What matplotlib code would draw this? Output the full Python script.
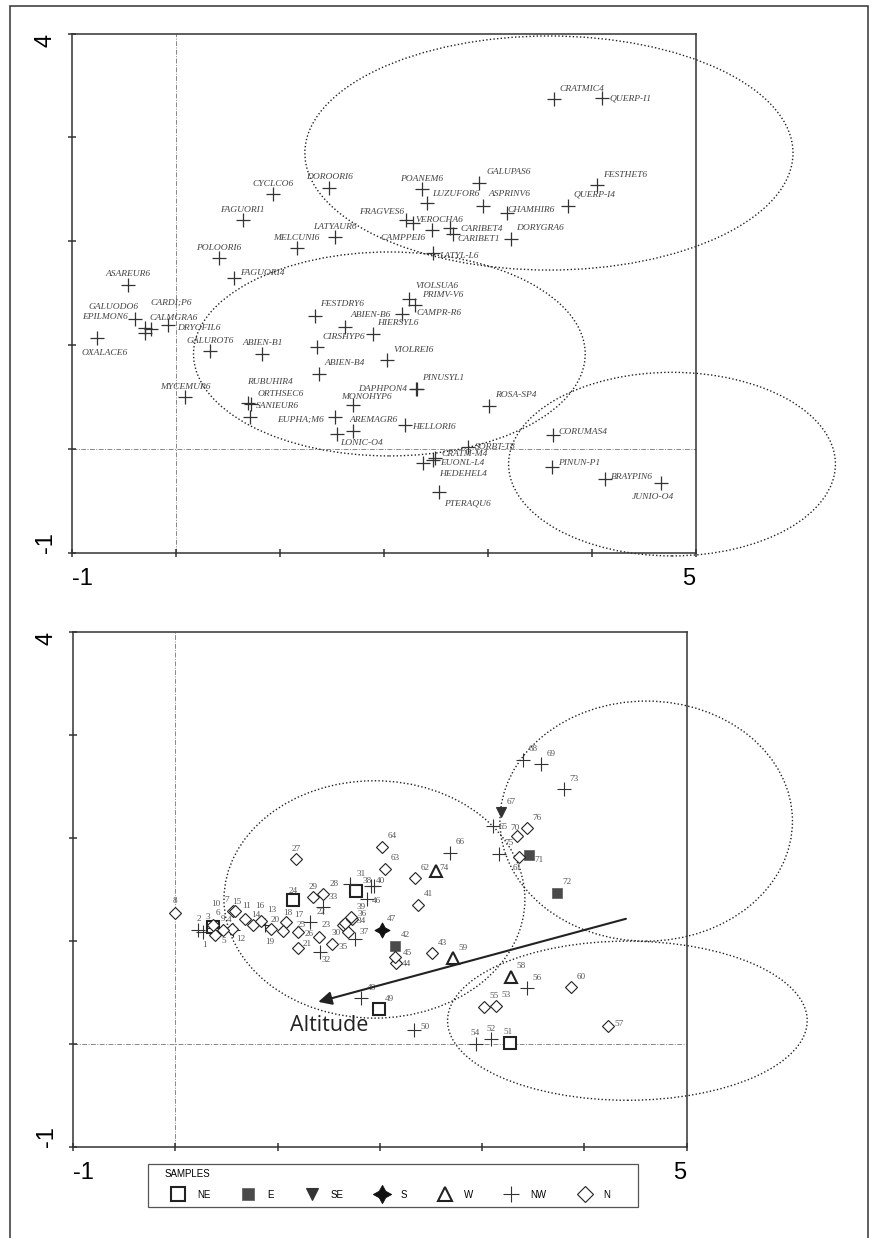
import matplotlib
matplotlib.use("Agg")
import matplotlib.pyplot as plt
from matplotlib.patches import Ellipse, Rectangle
from matplotlib.lines import Line2D

# ---- species scores (upper plot) ----
species = ['CRATMIC4', 'QUERP-I1', 'FESTHET6', 'QUERP-I4', 'GALUPAS6', 'ASPRINV6',
           'CHAMHIR6', 'DORYGRA6', 'POANEM6', 'LUZUFOR6', 'FRAGVES6', 'VEROCHA6',
           'CAMPPEI6', 'CARIBET4', 'CARIBET1', 'LATYL-L6', 'DOROORI6', 'CYCLCO6',
           'FAGUORI1', 'LATYAUR6', 'MELCUNI6', 'POLOORI6', 'FAGUORI4', 'ASAREUR6',
           'EPILMON6', 'OXALACE6', 'GALUODO6', 'CALMGRA6', 'DRYOFIL6', 'CARDI;P6',
           'GALUROT6', 'ABIEN-B1', 'MYCEMUR6', 'RUBUHIR4', 'ORTHSEC6', 'SANIEUR6',
           'FESTDRY6', 'ABIEN-B6', 'HIERSYL6', 'CIRSHYP6', 'CAMPR-R6', 'VIOLSUA6',
           'PRIMV-V6', 'VIOLREI6', 'ABIEN-B4', 'PINUSYL1', 'DAPHPON4', 'MONOHYP6',
           'EUPHA;M6', 'AREMAGR6', 'LONIC-O4', 'HELLORI6', 'ROSA-SP4', 'CORUMAS4',
           'SORBT-T8', 'CRATM-M4', 'EUONL-L4', 'HEDEHEL4', 'PTERAQU6', 'PINUN-P1',
           'BRAYPIN6', 'JUNIO-O4']
species_x = [3.637, 4.099, 4.053, 3.774, 2.915, 2.957, 3.182, 3.220, 2.364, 2.412,
             2.213, 2.278, 2.460, 2.636, 2.662, 2.470, 1.472, 0.937, 0.642, 1.533,
             1.162, 0.414, 0.558, -0.458, -0.397, -0.762, -0.298, -0.243, -0.298, -0.074,
             0.330, 0.831, 0.087, 0.696, 0.719, 0.712, 1.338, 1.626, 1.893, 1.354,
             2.178, 2.245, 2.300, 2.033, 1.379, 2.316, 2.310, 1.706, 1.530, 1.700,
             1.552, 2.203, 3.012, 3.624, 2.812, 2.492, 2.476, 2.380, 2.528, 3.615,
             4.128, 4.663]
species_y = [3.366, 3.382, 2.541, 2.339, 2.558, 2.342, 2.269, 2.018, 2.500, 2.365,
             2.204, 2.178, 2.108, 2.124, 2.069, 1.889, 2.509, 2.455, 2.201, 2.038,
             1.932, 1.835, 1.643, 1.578, 1.251, 1.071, 1.161, 1.152, 1.113, 1.193,
             0.943, 0.914, 0.497, 0.439, 0.432, 0.310, 1.280, 1.177, 1.104, 0.984,
             1.296, 1.440, 1.386, 0.856, 0.721, 0.580, 0.576, 0.423, 0.310, 0.175,
             0.143, 0.230, 0.413, 0.134, 0.021, -0.090, -0.107, -0.133, -0.418, -0.171,
             -0.293, -0.326]

# ---- sample scores (lower plot) ----
samples = list(range(1, 77))
aspect = ['NW', 'NW', 'NE', 'N', 'N', 'NW', 'N', 'N', 'N', 'N',
          'N', 'NW', 'NW', 'N', 'N', 'N', 'NW', 'N', 'N', 'N',
          'N', 'NW', 'N', 'NE', 'N', 'N', 'N', 'NW', 'N', 'N',
          'NE', 'NW', 'N', 'N', 'N', 'N', 'NW', 'NW', 'N', 'NW',
          'N', 'E', 'N', 'N', 'N', 'NW', 'S', 'NW', 'NE', 'NW',
          'NE', 'NW', 'N', 'NW', 'N', 'NW', 'N', 'W', 'W', 'N',
          'N', 'N', 'N', 'N', 'NW', 'NW', 'SE', 'NW', 'NW', 'N',
          'E', 'E', 'NW', 'W', 'NW', 'N']
sample_x = [0.274, 0.225, 0.372, 0.557, 0.388, 0.379, 0.567, -0.003, 0.470, 0.372,
            0.682, 0.567, 0.877, 0.757, 0.584, 0.838, 1.317, 1.083, 0.933, 1.050,
            1.197, 1.447, 1.640, 1.148, 1.197, 1.405, 1.177, 1.708, 1.344, 1.686,
            1.767, 1.415, 1.447, 1.659, 1.535, 1.728, 1.757, 1.914, 1.715, 1.943,
            2.376, 2.148, 2.513, 2.158, 2.148, 1.872, 2.018, 1.816, 1.995, 2.337,
            3.276, 3.084, 3.136, 2.940, 3.018, 3.436, 4.234, 3.282, 2.718, 3.866,
            3.361, 2.344, 2.050, 2.018, 3.109, 2.686, 3.182, 3.397, 3.573, 3.344,
            3.461, 3.735, 3.801, 2.549, 3.168, 3.436]
sample_y = [1.089, 1.105, 1.137, 1.112, 1.057, 1.125, 1.293, 1.273, 1.105, 1.154,
            1.212, 1.105, 1.154, 1.154, 1.285, 1.195, 1.180, 1.186, 1.115, 1.098,
            0.927, 1.329, 1.154, 1.397, 1.089, 1.040, 1.792, 1.549, 1.421, 1.083,
            1.487, 0.891, 1.453, 1.170, 0.969, 1.212, 1.015, 1.533, 1.234, 1.536,
            1.348, 0.950, 0.879, 0.782, 0.846, 1.403, 1.105, 0.442, 0.335, 0.134,
            0.010, 0.049, 0.370, -0.002, 0.360, 0.539, 0.173, 0.651, 0.830, 0.549,
            1.811, 1.607, 1.698, 1.914, 2.115, 1.856, 2.248, 2.757, 2.715, 2.018,
            1.834, 1.467, 2.472, 1.681, 1.843, 2.093]

aspect_order = ['NE', 'E', 'SE', 'S', 'W', 'NW', 'N']

# group ellipses (centre x, centre y, width, height)
top_ell_x = [3.588, 2.053, 4.772]
top_ell_y = [2.849, 0.914, -0.147]
top_ell_w = [4.696, 3.768, 3.144]
top_ell_h = [2.254, 1.964, 1.768]
bot_ell_x = [4.604, 1.947, 4.420]
bot_ell_y = [2.163, 1.402, 0.224]
bot_ell_w = [2.860, 2.942, 3.516]
bot_ell_h = [2.332, 2.306, 1.546]

# altitude gradient arrow
arrow_from = (4.406, 1.214)
arrow_to = (1.398, 0.407)

# label placement (pixels from point, label centre)
sp_off = {'CYCLCO6': (0, -10), 'DOROORI6': (1, -11.6), 'FAGUORI1': (0, -10.3),
          'LATYAUR6': (0, -10.6), 'MELCUNI6': (0, -10.6), 'POLOORI6': (0, -10.6),
          'FAGUORI4': (28.5, -5), 'ASAREUR6': (0, -11), 'POANEM6': (0, -10.3),
          'LUZUFOR6': (28.8, -9.3), 'GALUPAS6': (29.5, -11.6), 'ASPRINV6': (25.9, -11.4),
          'CHAMHIR6': (24.6, -3.3), 'DORYGRA6': (29.3, -11.3), 'QUERP-I4': (26.2, -11.7),
          'FESTHET6': (27.4, -10), 'CRATMIC4': (28, -10), 'QUERP-I1': (28.3, 1.3),
          'FRAGVES6': (-24, -8), 'VEROCHA6': (27, -2.7), 'CAMPPEI6': (-28.9, 7.7),
          'CARIBET4': (31.8, 0.4), 'CARIBET1': (25.6, 5.3), 'LATYL-L6': (26.1, 3),
          'EPILMON6': (-29.7, -1.7), 'GALUODO6': (-31.2, -21.6), 'OXALACE6': (8.3, 15),
          'CARDI;P6': (3.4, -22.3), 'DRYOFIL6': (54, -5.6), 'CALMGRA6': (23, -11.6),
          'GALUROT6': (0, -10.3), 'ABIEN-B1': (0, -11.3), 'MYCEMUR6': (0, -10.6),
          'RUBUHIR4': (21.2, -21.6), 'ORTHSEC6': (29.6, -10), 'SANIEUR6': (27.2, -11),
          'FESTDRY6': (27.3, -11.7), 'ABIEN-B6': (25.3, -11.7), 'HIERSYL6': (25.6, -11.6),
          'CIRSHYP6': (27.1, -10), 'VIOLSUA6': (27.9, -13.3), 'PRIMV-V6': (28, -10),
          'CAMPR-R6': (36.9, -1), 'VIOLREI6': (26, -10), 'ABIEN-B4': (25.7, -10.7),
          'PINUSYL1': (26.6, -11), 'DAPHPON4': (-33, 0), 'MONOHYP6': (12.9, -7.7),
          'EUPHA;M6': (-34.5, 3.3), 'AREMAGR6': (20.6, -10.7), 'LONIC-O4': (24.4, 8.7),
          'HELLORI6': (29.2, 2.3), 'ROSA-SP4': (26.5, -11), 'CORUMAS4': (29.8, -3),
          'SORBT-T8': (26.7, 0), 'CRATM-M4': (30, -4), 'EUONL-L4': (29, 3.3),
          'HEDEHEL4': (39.4, 11.3), 'PTERAQU6': (28.5, 11), 'PINUN-P1': (27, -4),
          'BRAYPIN6': (27.2, -2.6), 'JUNIO-O4': (-7.5, 14)}
smp_off_default = (10, -10.7)
smp_off = {1: (1.7, 13.3), 2: (0.7, -11), 3: (-5, -10), 4: (-3, -9.3), 5: (9, 6),
           6: (4.3, -14.7), 7: (-7, -10.5), 8: (0, -11.7), 9: (-0.6, -10.7),
           10: (2.7, -20.7), 11: (2, -12.5), 12: (7.4, 9.3), 13: (6.7, -15),
           14: (3, -10), 15: (1.5, -9), 16: (-1, -14.7), 17: (-11, -7.3),
           18: (1.3, -8.4), 19: (-1.4, 12.7), 20: (-7.4, -10.7), 21: (9.6, -4.3),
           22: (-2.6, 5.2), 23: (-16.5, 0.5), 24: (0, -9.3), 25: (3, -6.7),
           26: (-9.7, -3), 27: (0, -10.3), 28: (-16.3, -0.6), 29: (0, -10.8),
           30: (-11.5, 0.5), 31: (5, -16.7), 32: (6, 8), 33: (10, 3.1),
           34: (15.7, -2.3), 35: (10.4, 2.7), 36: (9.7, -5), 37: (9.3, -7.6),
           38: (-4.3, -5), 39: (10.3, -10), 40: (6, -4.7), 44: (10, 1),
           45: (12.3, -4), 46: (9.3, 1.4), 50: (10.7, -3.3), 51: (-2, -10.4),
           52: (0, -9.4), 54: (-1, -11.3), 57: (10.7, -2), 61: (-1.7, 11),
           65: (10, 1.3), 70: (-2.3, -7.7), 71: (10, 5), 74: (8.3, -3)}

styles = {
    'NE': dict(marker='s', ms=8, mfc='white', mec='#222', mew=1.5),
    'E': dict(marker='s', ms=7.5, mfc='#4a4a4a', mec='#666', mew=0.6),
    'SE': dict(marker='v', ms=7, mfc='#333', mec='#333', mew=0.8),
    'S': dict(marker=(4, 1, 0), ms=11, mfc='#111', mec='#111', mew=0.6),
    'W': dict(marker='^', ms=8, mfc='white', mec='#222', mew=1.5),
    'NW': dict(marker='+', ms=10, mfc='none', mec='#333', mew=0.8),
    'N': dict(marker='D', ms=6.5, mfc='white', mec='#222', mew=0.8),
}

sans = ['Liberation Sans', 'DejaVu Sans']
serif = ['Liberation Serif', 'DejaVu Serif']
frame_col = '#333333'
W, H = 875, 1238

fig = plt.figure(figsize=(W / 100, H / 100), dpi=100)
ax1 = fig.add_axes([0.0823, 0.55355, 0.7128, 0.41939])
ax2 = fig.add_axes([0.08343, 0.07375, 0.70137, 0.41575])


def setup(ax):
    ax.set_xlim(-1, 5)
    ax.set_ylim(-1, 4)
    ax.axhline(0, color='#888', lw=0.7, ls=(0, (5, 1.5, 1, 1.5)), zorder=1)
    ax.axvline(0, color='#888', lw=0.7, ls=(0, (5, 1.5, 1, 1.5)), zorder=1)
    for s in ax.spines.values():
        s.set_color(frame_col)
        s.set_linewidth(1.1)
    ax.set_xticks(range(-1, 6))
    ax.set_yticks(range(-1, 5))
    ax.set_xticklabels(['-1', '', '', '', '', '', '5'], fontsize=17, family=sans)
    ax.set_yticklabels(['-1', '', '', '', '', '4'], fontsize=17, family=sans, rotation=90)
    ax.tick_params(direction='inout', length=6, width=1.1, color=frame_col, pad=8)
    xl = ax.get_xticklabels()
    xl[0].set_ha('left')
    xl[-1].set_ha('right')
    yl = ax.get_yticklabels()
    yl[0].set_va('bottom')
    yl[-1].set_va('top')


setup(ax1)
setup(ax2)

# upper plot: species
for ex, ey, ew, eh in zip(top_ell_x, top_ell_y, top_ell_w, top_ell_h):
    ax1.add_patch(Ellipse((ex, ey), ew, eh, fill=False, ls=(0, (1, 1.6)), lw=1.0,
                          ec='#222', clip_on=False, zorder=2))
ax1.plot(species_x, species_y, ls='none', marker='+', ms=10, mew=0.9, color='#333', zorder=3)
for name, x, y in zip(species, species_x, species_y):
    dx, dy = sp_off.get(name, (26, -10))
    ax1.annotate(name, (x, y), xytext=(dx, -dy), textcoords='offset pixels',
                 ha='center', va='center', fontsize=6.8, style='italic',
                 family=serif, color='#444', zorder=4)

# lower plot: samples
for ex, ey, ew, eh in zip(bot_ell_x, bot_ell_y, bot_ell_w, bot_ell_h):
    ax2.add_patch(Ellipse((ex, ey), ew, eh, fill=False, ls=(0, (1, 1.6)), lw=1.0,
                          ec='#222', clip_on=False, zorder=2))
for asp in aspect_order:
    xs = [x for x, a in zip(sample_x, aspect) if a == asp]
    ys = [y for y, a in zip(sample_y, aspect) if a == asp]
    ax2.plot(xs, ys, ls='none', zorder=3, **styles[asp])
for s, x, y in zip(samples, sample_x, sample_y):
    dx, dy = smp_off.get(s, smp_off_default)
    ax2.annotate(str(s), (x, y), xytext=(dx, -dy), textcoords='offset pixels',
                 ha='center', va='center', fontsize=6.6, family=serif, color='#555',
                 zorder=4)

ax2.annotate('', xy=arrow_to, xytext=arrow_from,
             arrowprops=dict(arrowstyle='-|>', lw=1.5, color='#222',
                             mutation_scale=20, shrinkA=0, shrinkB=0), zorder=5)
ax2.text(1.508, 0.176, 'Altitude', fontsize=15.5, family=['Open Sans', 'DejaVu Sans'],
         ha='center', va='center', color='#222', zorder=5)

# legend: box drawn separately, entries laid out by fig.legend
fig.add_artist(Rectangle((148 / W, 1 - 1207 / H), 490 / W, 43 / H,
                         transform=fig.transFigure, fill=False, lw=0.9, ec='#555'))
handles = [Line2D([], [], ls='none', **styles[a]) for a in aspect_order]
fig.legend(handles, aspect_order, ncol=7, loc='upper left',
           bbox_to_anchor=(165 / W, 1 - 1169 / H), borderaxespad=0, borderpad=0,
           title='SAMPLES', alignment='left', frameon=False, markerscale=1.2,
           handlelength=2.67, handletextpad=0.62, columnspacing=2.57, labelspacing=1.1,
           prop={'family': sans, 'size': 7}, title_fontproperties={'family': sans, 'size': 7})

# page frame
fig.add_artist(Rectangle((10 / W, -0.02), 858.3 / W, 1.02 - 5.7 / H,
                         transform=fig.transFigure, fill=False, lw=1.1,
                         ec=frame_col, clip_on=False))

fig.savefig('out.png', dpi=100)
